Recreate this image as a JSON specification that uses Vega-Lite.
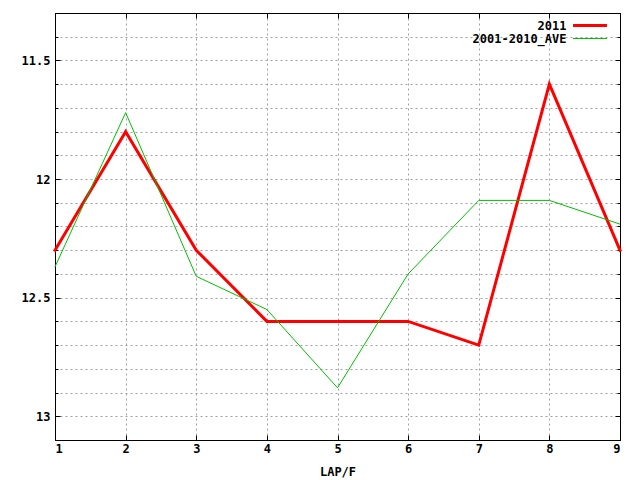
{
  "$schema": "https://vega.github.io/schema/vega-lite/v6.json",
  "width": 565,
  "height": 427,
  "autosize": "none",
  "padding": {"left": 55, "top": 13, "right": 20, "bottom": 40},
  "background": "white",
  "config": {
    "view": {"stroke": null},
    "font": "DejaVu Sans Mono",
    "axis": {
      "labelFont": "DejaVu Sans Mono",
      "labelFontSize": 12,
      "labelFontWeight": "bold",
      "labelColor": "black",
      "titleFont": "DejaVu Sans Mono",
      "titleFontSize": 12,
      "titleFontWeight": "bold",
      "titleColor": "black",
      "domainColor": "black",
      "domainWidth": 1,
      "tickColor": "black",
      "tickWidth": 1,
      "gridColor": "#a0a0a0",
      "gridDash": [2, 3],
      "gridWidth": 1
    },
    "legend": {
      "labelFont": "DejaVu Sans Mono",
      "labelFontSize": 12,
      "labelFontWeight": "bold",
      "labelColor": "black"
    }
  },
  "data": {
    "values": [
      {"lap": 1, "series": "2011", "time": 12.3},
      {"lap": 2, "series": "2011", "time": 11.8},
      {"lap": 3, "series": "2011", "time": 12.3},
      {"lap": 4, "series": "2011", "time": 12.6},
      {"lap": 5, "series": "2011", "time": 12.6},
      {"lap": 6, "series": "2011", "time": 12.6},
      {"lap": 7, "series": "2011", "time": 12.7},
      {"lap": 8, "series": "2011", "time": 11.6},
      {"lap": 9, "series": "2011", "time": 12.3},
      {"lap": 1, "series": "2001-2010_AVE", "time": 12.37},
      {"lap": 2, "series": "2001-2010_AVE", "time": 11.72},
      {"lap": 3, "series": "2001-2010_AVE", "time": 12.41},
      {"lap": 4, "series": "2001-2010_AVE", "time": 12.55},
      {"lap": 5, "series": "2001-2010_AVE", "time": 12.88},
      {"lap": 6, "series": "2001-2010_AVE", "time": 12.4},
      {"lap": 7, "series": "2001-2010_AVE", "time": 12.09},
      {"lap": 8, "series": "2001-2010_AVE", "time": 12.09},
      {"lap": 9, "series": "2001-2010_AVE", "time": 12.19}
    ]
  },
  "layer": [
    {
      "transform": [{"filter": "datum.series === '2011'"}],
      "mark": {"type": "line", "strokeCap": "square", "strokeJoin": "miter"},
      "encoding": {
        "x": {
          "field": "lap", "type": "quantitative",
          "scale": {"domain": [1, 9], "nice": false, "zero": false},
          "axis": {
            "orient": "bottom", "title": "LAP/F", "values": [1, 2, 3, 4, 5, 6, 7, 8, 9],
            "grid": true, "tickSize": -5, "labelPadding": 8, "titlePadding": 12
          }
        },
        "y": {
          "field": "time", "type": "quantitative",
          "scale": {"domain": [11.3, 13.1], "reverse": true, "nice": false, "zero": false},
          "axis": {
            "orient": "left", "title": null,
            "values": [11.3, 11.4, 11.5, 11.6, 11.7, 11.8, 11.9, 12.0, 12.1, 12.2, 12.3, 12.4, 12.5, 12.6, 12.7, 12.8, 12.9, 13.0, 13.1],
            "labelExpr": "abs(datum.value * 2 - round(datum.value * 2)) < 0.001 ? format(datum.value, '~g') : ''",
            "grid": true,
            "tickSize": {"condition": {"test": "abs(datum.value * 2 - round(datum.value * 2)) < 0.001", "value": -5}, "value": -3},
            "labelPadding": 10
          }
        },
        "color": {
          "field": "series", "type": "nominal",
          "scale": {"domain": ["2011", "2001-2010_AVE"], "range": ["#ff0000", "#00c000"]},
          "legend": {
            "title": null, "orient": "none", "legendX": 527.5, "legendY": 5,
            "symbolType": "M-3,0H3", "symbolSize": 128, "padding": 0,
            "labelAlign": "right", "labelOffset": -31, "rowPadding": 0
          }
        },
        "strokeWidth": {
          "field": "series", "type": "nominal",
          "scale": {"domain": ["2011", "2001-2010_AVE"], "range": [3, 1]},
          "legend": {
            "title": null, "orient": "none", "legendX": 527.5, "legendY": 5,
            "symbolType": "M-3,0H3", "symbolSize": 128, "padding": 0,
            "labelAlign": "right", "labelOffset": -31, "rowPadding": 0
          }
        }
      }
    },
    {
      "transform": [{"filter": "datum.series === '2001-2010_AVE'"}],
      "mark": {"type": "line"},
      "encoding": {
        "x": {
          "field": "lap", "type": "quantitative",
          "axis": {
            "orient": "top", "title": null, "labels": false, "values": [1, 2, 3, 4, 5, 6, 7, 8, 9],
            "grid": false, "tickSize": -5
          }
        },
        "y": {
          "field": "time", "type": "quantitative",
          "axis": {
            "orient": "right", "title": null, "labels": false, "grid": false,
            "values": [11.3, 11.4, 11.5, 11.6, 11.7, 11.8, 11.9, 12.0, 12.1, 12.2, 12.3, 12.4, 12.5, 12.6, 12.7, 12.8, 12.9, 13.0, 13.1],
            "tickSize": {"condition": {"test": "abs(datum.value * 2 - round(datum.value * 2)) < 0.001", "value": -5}, "value": -3}
          }
        },
        "color": {"field": "series", "type": "nominal"},
        "strokeWidth": {"field": "series", "type": "nominal"}
      }
    }
  ],
  "resolve": {"axis": {"x": "independent", "y": "independent"}}
}
